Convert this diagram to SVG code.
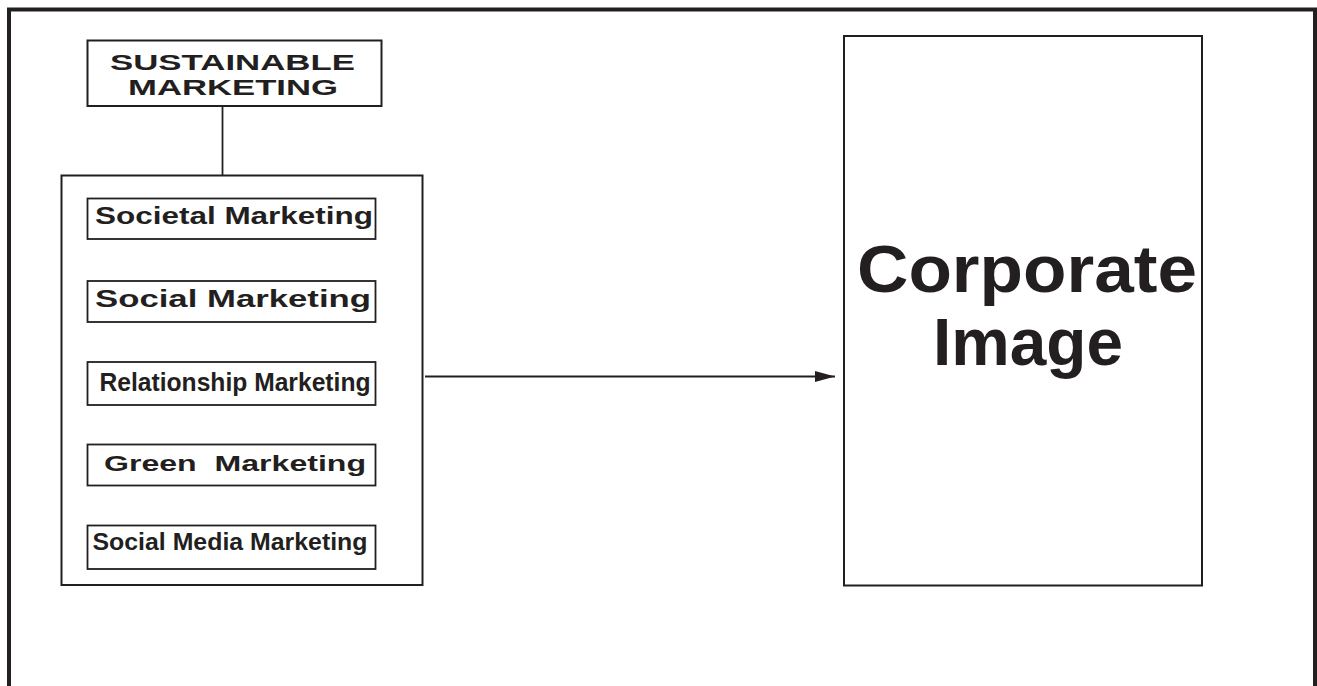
<svg xmlns="http://www.w3.org/2000/svg" width="1317" height="686" viewBox="0 0 1317 686">
<style>
  .box { fill: #ffffff; stroke: #231f20; stroke-width: 2; }
  .sub { fill: #ffffff; stroke: #231f20; stroke-width: 1.8; }
  .t { font-family: "Liberation Sans", Arial, sans-serif; font-weight: bold; fill: #231f20; }
  .line { stroke: #231f20; stroke-width: 1.8; fill: none; }
</style>
<defs>
  <marker id="arrow" markerWidth="20" markerHeight="12" refX="20" refY="6" orient="auto" markerUnits="userSpaceOnUse">
    <path d="M0,0.5 L20,6 L0,11.5 Z" fill="#231f20"/>
  </marker>
</defs>
<rect width="1317" height="686" fill="#ffffff"/>
<path d="M9,690 L9,9.5 L1315,9.5 L1315,690" fill="none" stroke="#231f20" stroke-width="4"/>

<g id="connectors">
  <line class="line" x1="222.5" y1="106" x2="222.5" y2="175"/>
  <line class="line" x1="425" y1="376.5" x2="835" y2="376.5" marker-end="url(#arrow)"/>
</g>

<g id="sustainable-marketing">
  <rect class="box" x="87.5" y="40.5" width="294" height="65.5"/>
  <text class="t" x="110" y="70" font-size="22" textLength="245" lengthAdjust="spacingAndGlyphs">SUSTAINABLE</text>
  <text class="t" x="128" y="95" font-size="22" textLength="210" lengthAdjust="spacingAndGlyphs">MARKETING</text>
</g>

<g id="marketing-group">
  <rect class="box" x="61.5" y="175.5" width="361" height="409.5"/>
</g>

<g id="societal-marketing">
  <rect class="sub" x="87.5" y="198.5" width="288" height="40.5"/>
  <text class="t" x="95" y="223.5" font-size="23" textLength="278" lengthAdjust="spacingAndGlyphs">Societal Marketing</text>
</g>

<g id="social-marketing">
  <rect class="sub" x="87.5" y="281" width="288" height="41"/>
  <text class="t" x="95" y="306.5" font-size="23" textLength="276" lengthAdjust="spacingAndGlyphs">Social Marketing</text>
</g>

<g id="relationship-marketing">
  <rect class="sub" x="87.5" y="362" width="288" height="43"/>
  <text class="t" x="99.5" y="391" font-size="25" textLength="271" lengthAdjust="spacingAndGlyphs">Relationship Marketing</text>
</g>

<g id="green-marketing">
  <rect class="sub" x="87.5" y="444.5" width="288" height="41"/>
  <text class="t" x="104" y="471" font-size="22" textLength="262" lengthAdjust="spacingAndGlyphs" xml:space="preserve">Green  Marketing</text>
</g>

<g id="social-media-marketing">
  <rect class="sub" x="87.5" y="525.5" width="288" height="43.5"/>
  <text class="t" x="92.5" y="550" font-size="23" textLength="275" lengthAdjust="spacingAndGlyphs">Social Media Marketing</text>
</g>

<g id="corporate-image">
  <rect class="box" x="844" y="36" width="358" height="549.5"/>
  <text class="t" x="857" y="291.5" font-size="66" textLength="340" lengthAdjust="spacingAndGlyphs">Corporate</text>
  <text class="t" x="933" y="365" font-size="66" textLength="190" lengthAdjust="spacingAndGlyphs">Image</text>
</g>
</svg>
